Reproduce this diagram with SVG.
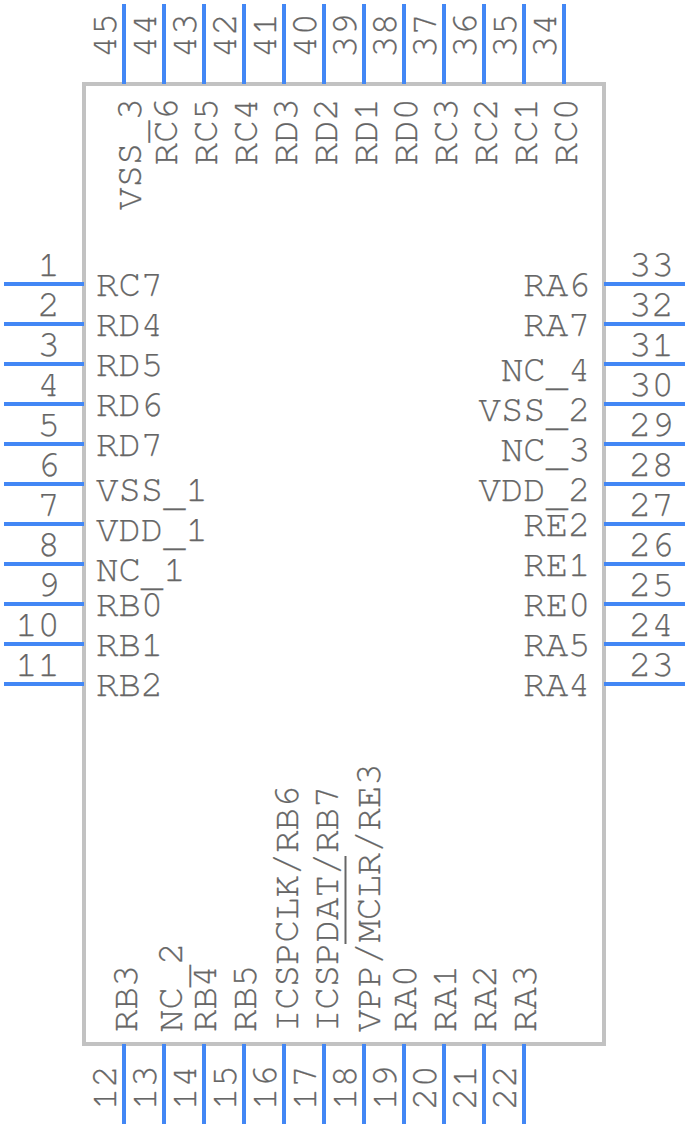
<svg xmlns="http://www.w3.org/2000/svg" width="688" height="1128" viewBox="0 0 688 1128">
<style>
.b{fill:#fff;stroke:#c2c2c2;stroke-width:4}
.p{stroke:#4287f5;stroke-width:4;fill:none}
.o{stroke:#666;stroke-width:2;fill:none}
text{font-family:"Nimbus Mono PS","FreeMono","Courier","Liberation Mono",monospace;font-size:37.33px;fill:#666;stroke:#666;stroke-width:.25}
.e{text-anchor:end}
</style>
<g id="body"><rect class="b" x="84" y="84" width="520" height="960"/></g>
<g id="connectors">
<path class="p" d="M4 284H84M4 324H84M4 364H84M4 404H84M4 444H84M4 484H84M4 524H84M4 564H84M4 604H84M4 644H84M4 684H84"/>
<path class="p" d="M604 284H685M604 324H685M604 364H685M604 404H685M604 444H685M604 484H685M604 524H685M604 564H685M604 604H685M604 644H685M604 684H685"/>
<path class="p" d="M124 4V84M164 4V84M204 4V84M244 4V84M284 4V84M324 4V84M364 4V84M404 4V84M444 4V84M484 4V84M524 4V84M564 4V84"/>
<path class="p" d="M124 1044V1124M164 1044V1124M204 1044V1124M244 1044V1124M284 1044V1124M324 1044V1124M364 1044V1124M404 1044V1124M444 1044V1124M484 1044V1124M524 1044V1124"/>
</g>
<g id="pins-left">
<g id="pin-1"><text class="e" x="60" y="276">1</text><text x="96" y="296">RC7</text></g>
<g id="pin-2"><text class="e" x="60" y="316">2</text><text x="96" y="336">RD4</text></g>
<g id="pin-3"><text class="e" x="60" y="356">3</text><text x="96" y="376">RD5</text></g>
<g id="pin-4"><text class="e" x="60" y="396">4</text><text x="96" y="416">RD6</text></g>
<g id="pin-5"><text class="e" x="60" y="436">5</text><text x="96" y="456">RD7</text></g>
<g id="pin-6"><text class="e" x="60" y="476">6</text><text x="96" y="501">VSS<tspan dy="5">_</tspan><tspan dy="-5">1</tspan></text></g>
<g id="pin-7"><text class="e" x="60" y="516">7</text><text x="96" y="541">VDD<tspan dy="5">_</tspan><tspan dy="-5">1</tspan></text></g>
<g id="pin-8"><text class="e" x="60" y="556">8</text><text x="96" y="581">NC<tspan dy="5">_</tspan><tspan dy="-5">1</tspan></text></g>
<g id="pin-9"><text class="e" x="60" y="596">9</text><text x="96" y="616">RB0</text></g>
<g id="pin-10"><text class="e" x="60" y="636">10</text><text x="96" y="656">RB1</text></g>
<g id="pin-11"><text class="e" x="60" y="676">11</text><text x="96" y="696">RB2</text></g>
</g>
<g id="pins-right">
<g id="pin-33"><text x="629" y="276">33</text><text class="e" x="590.5" y="296">RA6</text></g>
<g id="pin-32"><text x="629" y="316">32</text><text class="e" x="590.5" y="336">RA7</text></g>
<g id="pin-31"><text x="629" y="356">31</text><text class="e" x="590.5" y="381">NC<tspan dy="5">_</tspan><tspan dy="-5">4</tspan></text></g>
<g id="pin-30"><text x="629" y="396">30</text><text class="e" x="590.5" y="421">VSS<tspan dy="5">_</tspan><tspan dy="-5">2</tspan></text></g>
<g id="pin-29"><text x="629" y="436">29</text><text class="e" x="590.5" y="461">NC<tspan dy="5">_</tspan><tspan dy="-5">3</tspan></text></g>
<g id="pin-28"><text x="629" y="476">28</text><text class="e" x="590.5" y="501">VDD<tspan dy="5">_</tspan><tspan dy="-5">2</tspan></text></g>
<g id="pin-27"><text x="629" y="516">27</text><text class="e" x="590.5" y="536">RE2</text></g>
<g id="pin-26"><text x="629" y="556">26</text><text class="e" x="590.5" y="576">RE1</text></g>
<g id="pin-25"><text x="629" y="596">25</text><text class="e" x="590.5" y="616">RE0</text></g>
<g id="pin-24"><text x="629" y="636">24</text><text class="e" x="590.5" y="656">RA5</text></g>
<g id="pin-23"><text x="629" y="676">23</text><text class="e" x="590.5" y="696">RA4</text></g>
</g>
<g id="pins-top">
<g id="pin-45"><text transform="translate(116 58) rotate(-90)">45</text><text transform="translate(141 210) rotate(-90)">VSS<tspan dy="5">_</tspan><tspan dy="-5">3</tspan></text></g>
<g id="pin-44"><text transform="translate(156 58) rotate(-90)">44</text><text class="e" transform="translate(177 98) rotate(-90)">RC6</text></g>
<g id="pin-43"><text transform="translate(196 58) rotate(-90)">43</text><text class="e" transform="translate(217 98) rotate(-90)">RC5</text></g>
<g id="pin-42"><text transform="translate(236 58) rotate(-90)">42</text><text class="e" transform="translate(257 98) rotate(-90)">RC4</text></g>
<g id="pin-41"><text transform="translate(276 58) rotate(-90)">41</text><text class="e" transform="translate(297 98) rotate(-90)">RD3</text></g>
<g id="pin-40"><text transform="translate(316 58) rotate(-90)">40</text><text class="e" transform="translate(337 98) rotate(-90)">RD2</text></g>
<g id="pin-39"><text transform="translate(356 58) rotate(-90)">39</text><text class="e" transform="translate(377 98) rotate(-90)">RD1</text></g>
<g id="pin-38"><text transform="translate(396 58) rotate(-90)">38</text><text class="e" transform="translate(417 98) rotate(-90)">RD0</text></g>
<g id="pin-37"><text transform="translate(436 58) rotate(-90)">37</text><text class="e" transform="translate(457 98) rotate(-90)">RC3</text></g>
<g id="pin-36"><text transform="translate(476 58) rotate(-90)">36</text><text class="e" transform="translate(497 98) rotate(-90)">RC2</text></g>
<g id="pin-35"><text transform="translate(516 58) rotate(-90)">35</text><text class="e" transform="translate(537 98) rotate(-90)">RC1</text></g>
<g id="pin-34"><text transform="translate(556 58) rotate(-90)">34</text><text class="e" transform="translate(577 98) rotate(-90)">RC0</text></g>
</g>
<g id="pins-bottom">
<g id="pin-12"><text transform="translate(116 1110) rotate(-90)">12</text><text transform="translate(137 1032) rotate(-90)">RB3</text></g>
<g id="pin-13"><text transform="translate(156 1110) rotate(-90)">13</text><text transform="translate(182 1032) rotate(-90)">NC<tspan dy="5">_</tspan><tspan dy="-5">2</tspan></text></g>
<g id="pin-14"><text transform="translate(196 1110) rotate(-90)">14</text><text transform="translate(216 1032) rotate(-90)">RB4</text></g>
<g id="pin-15"><text transform="translate(236 1110) rotate(-90)">15</text><text transform="translate(256 1032) rotate(-90)">RB5</text></g>
<g id="pin-16"><text transform="translate(276 1110) rotate(-90)">16</text><text transform="translate(298 1032) rotate(-90)">ICSPCLK/RB6</text></g>
<g id="pin-17"><text transform="translate(316 1110) rotate(-90)">17</text><text transform="translate(338 1032) rotate(-90)">ICSPDAT/RB7</text></g>
<g id="pin-18"><text transform="translate(356 1110) rotate(-90)">18</text><text transform="translate(380 1032) rotate(-90)">VPP/MCLR/RE3</text><path class="o" d="M345.5 856V944"/></g>
<g id="pin-19"><text transform="translate(396 1110) rotate(-90)">19</text><text transform="translate(416 1032) rotate(-90)">RA0</text></g>
<g id="pin-20"><text transform="translate(436 1110) rotate(-90)">20</text><text transform="translate(456 1032) rotate(-90)">RA1</text></g>
<g id="pin-21"><text transform="translate(476 1110) rotate(-90)">21</text><text transform="translate(496 1032) rotate(-90)">RA2</text></g>
<g id="pin-22"><text transform="translate(516 1110) rotate(-90)">22</text><text transform="translate(536 1032) rotate(-90)">RA3</text></g>
</g>
</svg>
